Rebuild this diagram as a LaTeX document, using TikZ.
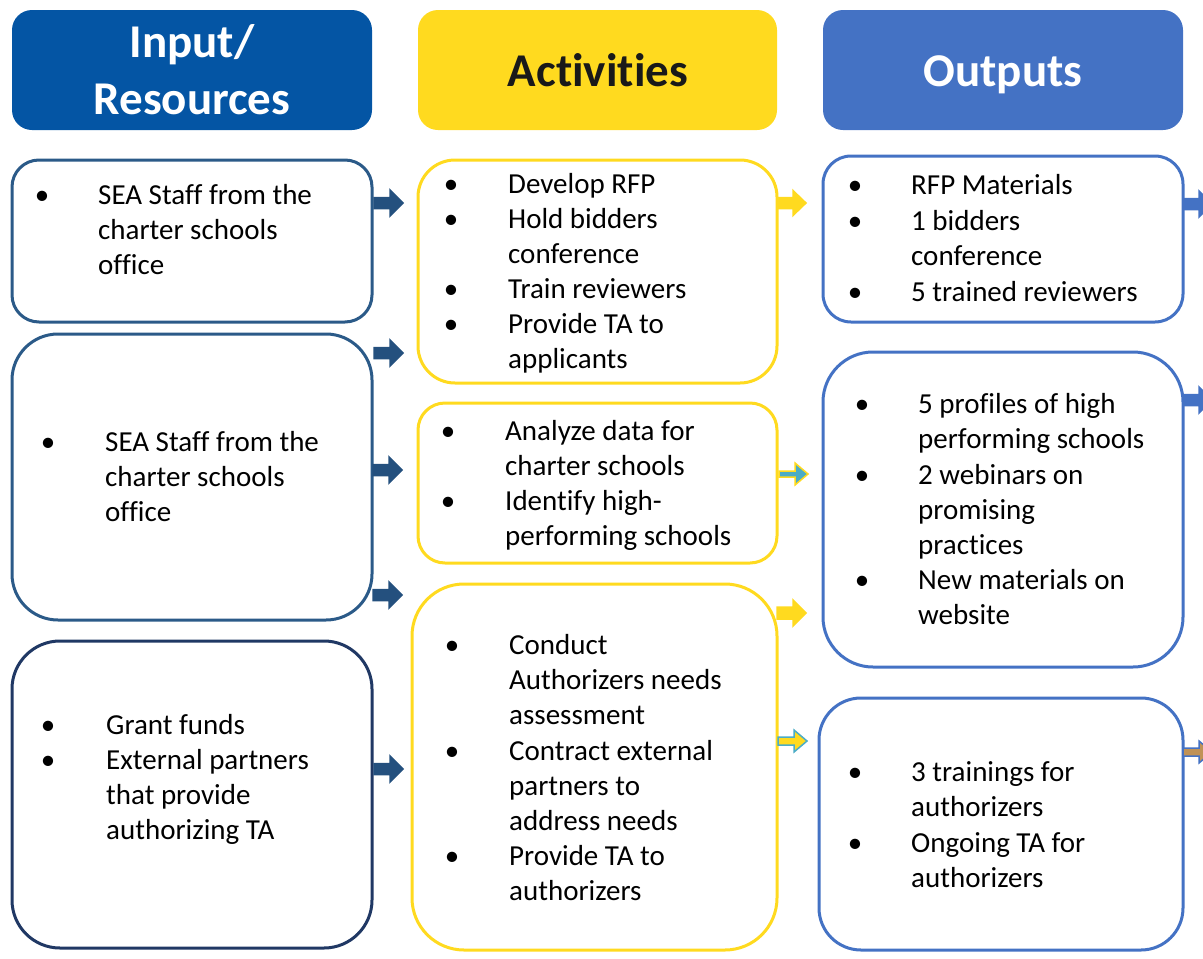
\documentclass[tikz,border=0pt]{standalone}
\usepackage{fontspec}
\setmainfont{Carlito}[Ligatures={NoCommon}]
\definecolor{hdrA}{HTML}{0455A4}
\definecolor{hdrB}{HTML}{FFDA1F}
\definecolor{hdrC}{HTML}{4472C4}
\definecolor{edgeA}{HTML}{2B5A88}
\definecolor{edgeC}{HTML}{203864}
\definecolor{arrA}{HTML}{24507E}
\definecolor{yel}{HTML}{FFDA1F}
\definecolor{teal}{HTML}{4BACC6}
\definecolor{tan}{HTML}{C09256}
\newcommand{\blkarrow}[6]{% fill, draw, x, y, body half, head half
  \path[fill=#1,draw=#2,line width=1.5pt,line join=miter]
    (#3,#4-#5) -- (#3+16,#4-#5) -- (#3+16,#4-#6) -- (#3+29,#4)
    -- (#3+16,#4+#6) -- (#3+16,#4+#5) -- (#3,#4+#5) -- cycle;}
\tikzset{
  hdr/.style={inner sep=0pt, rounded corners=20pt},
  box/.style={draw, line width=3pt, fill=white, inner sep=0pt},
  item/.style={inner sep=0pt, anchor=base west, font=\fontsize{29}{35.2}\selectfont, text=black},
  bul/.style={inner sep=0pt, anchor=base, font=\fontsize{29}{35.2}\selectfont, text=black},
  htext/.style={inner sep=0pt, anchor=base, text=white, font=\fontsize{47}{57}\selectfont\bfseries},
}
\begin{document}
\begin{tikzpicture}[x=1pt,y=-1pt]
\useasboundingbox (0,0) rectangle (1203,959);
\clip (0,0) rectangle (1203,959);
% headers
\node[hdr, fill=hdrA, minimum width=360pt, minimum height=120pt] (h1) at (192,70) {};
\node[hdr, fill=hdrB, minimum width=359pt, minimum height=120pt] (h2) at (597.5,70) {};
\node[hdr, fill=hdrC, minimum width=360pt, minimum height=120pt] (h3) at (1003,70) {};
\node[htext] (h1t) at (192,57) {\parbox[t]{340pt}{\centering Input/\\Resources}};
\node[htext, text=black!90] (h2t) at (598,86) {Activities};
\node[htext] (h3t) at (1003,86) {Outputs};
% column 1 boxes
\node[box, draw=edgeA, rounded corners=27pt, minimum width=360pt, minimum height=162pt] (bA) at (192,241) {};
\node[box, draw=edgeA, rounded corners=46pt, minimum width=360pt, minimum height=286pt] (bB) at (192,477) {};
\node[box, draw=edgeC, rounded corners=48pt, minimum width=360pt, minimum height=307pt] (bC) at (192,794.5) {};
% column 2 boxes
\node[box, draw=yel, rounded corners=37pt, minimum width=359pt, minimum height=223pt] (bD) at (597.5,271.5) {};
\node[box, draw=yel, rounded corners=27pt, minimum width=359pt, minimum height=160pt] (bE) at (597.5,483) {};
\node[box, draw=yel, rounded corners=52pt, minimum width=365pt, minimum height=366pt] (bF) at (594.5,767) {};
% column 3 boxes
\node[box, draw=hdrC, rounded corners=28pt, minimum width=360pt, minimum height=166pt] (bG) at (1003,239) {};
\node[box, draw=hdrC, rounded corners=50pt, minimum width=360pt, minimum height=315pt] (bH) at (1003,509.5) {};
\node[box, draw=hdrC, rounded corners=42pt, minimum width=364pt, minimum height=252pt] (bI) at (1001,824) {};
% arrows
\blkarrow{arrA}{arrA}{374}{203}{5.5}{13}
\blkarrow{arrA}{arrA}{374}{353}{5.5}{13}
\blkarrow{arrA}{arrA}{373}{470}{5.5}{13}
\blkarrow{arrA}{arrA}{373}{595}{5.5}{13}
\blkarrow{arrA}{arrA}{374}{769}{5.5}{13}
\blkarrow{yel}{yel}{777}{203}{5.5}{12.5}
\blkarrow{teal}{yel}{779}{474}{3}{11}
\blkarrow{yel}{yel}{777}{613}{6}{13}
\blkarrow{yel}{teal}{778}{741}{4}{11}
\blkarrow{hdrC}{hdrC}{1183}{204}{5.5}{13}
\blkarrow{hdrC}{hdrC}{1183}{400}{5.5}{13}
\blkarrow{tan}{hdrC}{1183}{752}{4}{11}
% box A text
\node[bul] (tAb1) at (42,204) {•};
\node[item] (tA1) at (98,204) {\parbox[t]{270pt}{SEA Staff from the\\charter schools\\office}};
% box B text
\node[bul] (tBb1) at (48,451) {•};
\node[item] (tB1) at (105,451) {\parbox[t]{260pt}{SEA Staff from the\\charter schools\\office}};
% box C text
\node[bul] (tCb1) at (48,734) {•};
\node[item] (tC1) at (106,734) {\parbox[t]{260pt}{Grant funds}};
\node[bul] (tCb2) at (48,769) {•};
\node[item] (tC2) at (106,769) {\parbox[t]{260pt}{External partners\\that provide\\authorizing TA}};
% box D text
\node[bul] (tDb1) at (451,193) {•};
\node[item] (tD1) at (508,193) {\parbox[t]{260pt}{Develop RFP}};
\node[bul] (tDb2) at (451,228) {•};
\node[item] (tD2) at (508,228) {\parbox[t]{260pt}{Hold bidders\\conference}};
\node[bul] (tDb3) at (451,298) {•};
\node[item] (tD3) at (508,298) {\parbox[t]{260pt}{Train reviewers}};
\node[bul] (tDb4) at (451,333) {•};
\node[item] (tD4) at (508,333) {\parbox[t]{260pt}{Provide TA to\\applicants}};
% box E text
\node[bul] (tEb1) at (448,440) {•};
\node[item] (tE1) at (505,440) {\parbox[t]{260pt}{Analyze data for\\charter schools}};
\node[bul] (tEb2) at (448,510) {•};
\node[item] (tE2) at (505,510) {\parbox[t]{260pt}{Identify high-\\performing schools}};
% box F text
\node[bul] (tFb1) at (452,654) {•};
\node[item] (tF1) at (509,654) {\parbox[t]{260pt}{Conduct\\Authorizers needs\\assessment}};
\node[bul] (tFb2) at (452,760) {•};
\node[item] (tF2) at (509,760) {\parbox[t]{260pt}{Contract external\\partners to\\address needs}};
\node[bul] (tFb3) at (452,865) {•};
\node[item] (tF3) at (509,865) {\parbox[t]{260pt}{Provide TA to\\authorizers}};
% box G text
\node[bul] (tGb1) at (855,194) {•};
\node[item] (tG1) at (911,194) {\parbox[t]{260pt}{RFP Materials}};
\node[bul] (tGb2) at (855,230) {•};
\node[item] (tG2) at (911,230) {\parbox[t]{260pt}{1 bidders\\conference}};
\node[bul] (tGb3) at (855,301) {•};
\node[item] (tG3) at (911,301) {\parbox[t]{260pt}{5 trained reviewers}};
% box H text
\node[bul] (tHb1) at (862,413) {•};
\node[item] (tH1) at (918,413) {\parbox[t]{260pt}{5 profiles of high\\performing schools}};
\node[bul] (tHb2) at (862,484) {•};
\node[item] (tH2) at (918,484) {\parbox[t]{260pt}{2 webinars on\\promising\\practices}};
\node[bul] (tHb3) at (862,589) {•};
\node[item] (tH3) at (918,589) {\parbox[t]{260pt}{New materials on\\website}};
% box I text
\node[bul] (tIb1) at (855,781) {•};
\node[item] (tI1) at (911,781) {\parbox[t]{260pt}{3 trainings for\\authorizers}};
\node[bul] (tIb2) at (855,852) {•};
\node[item] (tI2) at (911,852) {\parbox[t]{260pt}{Ongoing TA for\\authorizers}};
\end{tikzpicture}
\end{document}
